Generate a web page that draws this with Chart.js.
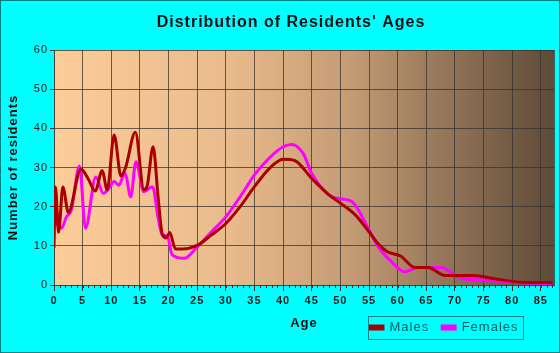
<!DOCTYPE html>
<html><head><meta charset="utf-8">
<script src="https://cdn.jsdelivr.net/npm/chart.js@4/dist/chart.umd.min.js"></script>
<style>html,body{margin:0;padding:0;background:#00ffff;}canvas{display:block;}</style>
</head><body>
<canvas id="c" width="560" height="353"></canvas>
<script>
const chartTitle = "Distribution of Residents' Ages";
const xTitle = 'Age';
const yTitle = 'Number of residents';
const seriesNames = ['Males', 'Females'];
const xTickValues = [0, 5, 10, 15, 20, 25, 30, 35, 40, 45, 50, 55, 60, 65, 70, 75, 80, 85];
const yTickValues = [0, 10, 20, 30, 40, 50, 60];

const maleAges = [0, 0.25, 0.8, 1.55, 2.5, 4.7, 6.0, 7.2, 8.4, 9.3, 10.5, 11.7, 12.5, 14.2, 15.7, 16.3, 17.3, 18.2, 18.9, 19.6, 20.2, 21.2, 22.4, 25, 27.5, 30, 32.5, 35, 37.5, 40, 42, 45, 48, 50, 52.6, 55, 56.6, 58.2, 60.5, 63, 65.3, 68.3, 73, 77.6, 81.6, 87];
const maleValues = [9.5, 25, 13.5, 25, 18.5, 29.6, 27, 24, 29.2, 24.3, 38.3, 27.8, 30, 39, 24.3, 25.5, 35.3, 22, 13, 12, 13.4, 9.2, 9.2, 10.1, 12.8, 15.7, 20, 25.1, 29.6, 32.1, 31.8, 27.2, 23, 20.9, 17.9, 13.6, 10.5, 8.5, 7.4, 4.5, 4.5, 2.4, 2.4, 1.4, 0.7, 0.6];

const femaleAges = [0.3, 1.3, 2.2, 3.0, 4.45, 5.5, 7.3, 8.6, 9.5, 10.5, 11.3, 12.4, 13.4, 14.3, 15.7, 17.2, 18.2, 18.9, 19.8, 20.6, 22.7, 25, 27.5, 30, 32.5, 35, 37.5, 40, 41.5, 43.5, 45, 48, 50, 52, 55, 56.6, 58.9, 61.2, 63.6, 67.6, 71.1, 75.2, 81, 87];
const femaleValues = [16, 14.5, 17.5, 19, 30.4, 14.5, 27.6, 23.4, 24.5, 26.4, 25.5, 28.5, 22.5, 31.5, 23.8, 25.1, 17, 12.8, 12.5, 7.8, 6.8, 9.7, 13.6, 17.4, 22.5, 28.1, 32.3, 35.3, 35.9, 33.6, 28.5, 23, 22, 21.3, 14.1, 9.8, 6, 3.4, 4.5, 4.5, 1.7, 1.3, 0.6, 0.4];

const toPoints = (xs, ys) => xs.map((x, i) => ({x: x, y: ys[i]}));
const gridColor = 'rgba(55,50,45,0.75)';

const deco = {
  id: 'deco',
  beforeUpdate(chart) { chart.ctx.letterSpacing = '1px'; },
  beforeLayout(chart) {
    const lg = chart.legend;
    if (lg && !lg._patched) {
      const f = lg.fit.bind(lg);
      lg.fit = function () { f(); this.height = 0; };
      lg._patched = true;
    }
  },
  afterLayout(chart) {
    const t = chart.titleBlock;
    t.left = 22; t.right = 560; t.width = 538;
    const lg = chart.legend;
    lg.left = 357; lg.right = 560; lg.width = 203;
    lg.top = 308; lg.bottom = 353; lg.height = 45;
  },
  beforeDraw(chart) {
    const ctx = chart.ctx, a = chart.chartArea;
    ctx.letterSpacing = '1px';
    ctx.save();
    ctx.fillStyle = '#00ffff';
    ctx.fillRect(0, 0, chart.width, chart.height);
    const g = ctx.createLinearGradient(a.left, 0, a.right, 0);
    g.addColorStop(0, '#fccc99');
    g.addColorStop(0.35, '#eabb8c');
    g.addColorStop(0.6, '#c29a74');
    g.addColorStop(1, '#5e4a38');
    ctx.fillStyle = g;
    ctx.fillRect(a.left, a.top, a.right - a.left, a.bottom - a.top);
    ctx.restore();
  },
  afterDraw(chart) {
    const ctx = chart.ctx, a = chart.chartArea, xs = chart.scales.x;
    ctx.save();
    ctx.strokeStyle = gridColor;
    ctx.lineWidth = 1;
    ctx.beginPath();
    ctx.moveTo(Math.round(a.right) + 0.5, a.top);
    ctx.lineTo(Math.round(a.right) + 0.5, a.bottom);
    ctx.stroke();
    ctx.strokeStyle = '#333';
    ctx.beginPath();
    for (let v = Math.ceil(xs.min); v <= xs.max; v++) {
      const px = Math.round(xs.getPixelForValue(v)) + 0.5;
      ctx.moveTo(px, a.bottom);
      ctx.lineTo(px, a.bottom + 3);
    }
    ctx.stroke();
    const hb = chart.legend.legendHitBoxes;
    if (hb && hb.length) {
      const last = hb[hb.length - 1];
      const l = hb[0].left - 2, r = last.left + last.width + 4;
      const t = hb[0].top - 5, b = hb[0].top + hb[0].height + 5;
      ctx.strokeStyle = '#1a7f7f';
      ctx.strokeRect(Math.round(l) + 0.5, Math.round(t) + 0.5, Math.round(r - l), Math.round(b - t));
    }
    ctx.strokeStyle = '#008080';
    ctx.strokeRect(0.5, 0.5, chart.width - 1, chart.height - 1);
    ctx.restore();
  }
};

new Chart(document.getElementById('c'), {
  type: 'line',
  data: {
    datasets: [
      {label: seriesNames[0], data: toPoints(maleAges, maleValues), borderColor: '#aa0000', backgroundColor: '#aa0000', borderWidth: 3, pointRadius: 0, cubicInterpolationMode: 'monotone', fill: false},
      {label: seriesNames[1], data: toPoints(femaleAges, femaleValues), borderColor: '#ff00ff', backgroundColor: '#ff00ff', borderWidth: 3, pointRadius: 0, cubicInterpolationMode: 'monotone', fill: false}
    ]
  },
  options: {
    responsive: false,
    animation: false,
    devicePixelRatio: 1,
    layout: {padding: {left: 0, right: 6, top: 0, bottom: 0}},
    scales: {
      x: {
        type: 'linear', min: 0, max: 87.3,
        afterFit: s => { s.height = 68; },
        afterBuildTicks: s => { s.ticks = xTickValues.map(v => ({value: v})); },
        ticks: {autoSkip: false, maxRotation: 0, padding: 3, color: '#1a1a1a', font: {family: 'Liberation Sans, Arial', size: 11, weight: 'bold'}},
        grid: {color: gridColor, tickColor: '#333', tickLength: 6},
        border: {color: '#444'},
        title: {display: true, text: xTitle, color: '#111', font: {family: 'Liberation Sans, Arial', size: 13, weight: 'bold'}, padding: {top: 0, bottom: 22}}
      },
      y: {
        min: 0, max: 60,
        afterFit: s => { s.width = 54; },
        afterBuildTicks: s => { s.ticks = yTickValues.map(v => ({value: v})); },
        ticks: {padding: 2, color: '#222', font: {family: 'Liberation Sans, Arial', size: 11}},
        grid: {color: gridColor, tickColor: '#333', tickLength: 4},
        border: {color: '#444'},
        title: {display: true, text: yTitle, color: '#111', font: {family: 'Liberation Sans, Arial', size: 13, weight: 'bold'}, padding: {top: 6, bottom: 0}}
      }
    },
    plugins: {
      title: {display: true, text: chartTitle, color: '#111', font: {family: 'Liberation Sans, Arial', size: 16, weight: 'bold'}, padding: {top: 13, bottom: 17.8}},
      legend: {
        display: true, position: 'bottom', align: 'start',
        labels: {boxWidth: 13, boxHeight: 3, padding: 13, color: '#0a5c5c', font: {family: 'Liberation Sans, Arial', size: 13}}
      },
      tooltip: {enabled: false}
    }
  },
  plugins: [deco]
});
</script>
</body></html>
